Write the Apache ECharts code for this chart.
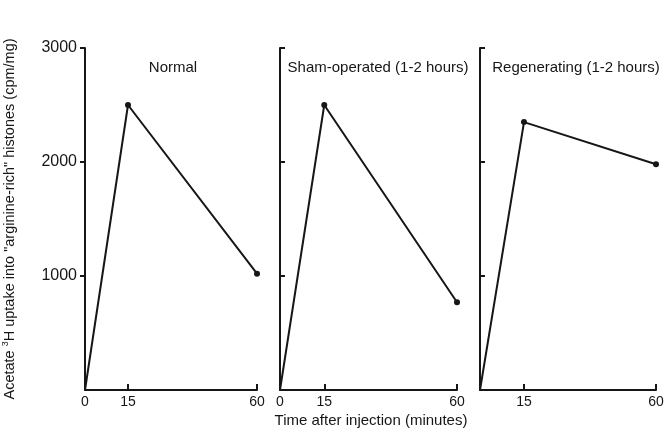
<!DOCTYPE html>
<html><head><meta charset="utf-8">
<script src="https://cdn.jsdelivr.net/npm/echarts@6/dist/echarts.min.js"></script>
<style>html,body{margin:0;padding:0;background:#fff}#c{width:667px;height:436px}</style>
</head><body><div id="c"></div>
<script>
const times = [0, 15, 60];
const normalVals = [0, 2500, 1020];
const shamVals = [0, 2500, 770];
const regenVals = [0, 2350, 1980];
const panelTitles = ['Normal', 'Sham-operated (1-2 hours)', 'Regenerating (1-2 hours)'];
const yTicks = [1000, 2000, 3000];
const xTicksPanels = [[0, 15, 60], [0, 15, 60], [15, 60]];
const xTitle = 'Time after injection (minutes)';

const FONT = '"Liberation Sans", Arial, sans-serif';
const INK = '#161616';
const seriesVals = [normalVals, shamVals, regenVals];
const grids = [
  {left: 81, top: 48, width: 176, height: 342},
  {left: 280, top: 48, width: 177, height: 342},
  {left: 480, top: 48, width: 176, height: 342}
];
const titleX = [173, 378, 576];

const chart = echarts.init(document.getElementById('c'), null, {renderer: 'canvas'});
const option = {
  animation: false,
  backgroundColor: '#fff',
  grid: grids,
  xAxis: grids.map((g, i) => ({
    type: 'value', gridIndex: i, min: 0, max: 60, interval: 15,
    axisLine: {show: true, lineStyle: {color: INK, width: 2}},
    axisTick: {show: true, inside: true, length: 6, lineStyle: {color: INK, width: 2}, customValues: xTicksPanels[i]},
    axisLabel: {show: true, color: INK, fontSize: 14, fontFamily: FONT, margin: 5, customValues: xTicksPanels[i], formatter: v => String(v)},
    splitLine: {show: false}
  })),
  yAxis: grids.map((g, i) => ({
    type: 'value', gridIndex: i, min: 0, max: 3000, interval: 1000,
    name: i === 0 ? '{n|Acetate }{s|3}{n|H uptake into "arginine-rich" histones (cpm/mg)}' : '',
    nameLocation: 'middle', nameGap: 67, nameRotate: 90,
    nameTextStyle: {rich: {
      n: {fontSize: 14.5, fontFamily: FONT, color: INK},
      s: {fontSize: 9, fontFamily: FONT, color: INK, verticalAlign: 'top', padding: [0, 0, 8, 0]}
    }},
    axisLine: {show: true, lineStyle: {color: INK, width: 2}},
    axisTick: {show: true, inside: i !== 0, length: 5, lineStyle: {color: INK, width: 2}, customValues: yTicks},
    axisLabel: {show: i === 0, color: INK, fontSize: 16, fontFamily: FONT, margin: 8, customValues: yTicks, formatter: v => String(v)},
    splitLine: {show: false}
  })),
  series: seriesVals.map((vals, i) => ({
    type: 'line', xAxisIndex: i, yAxisIndex: i,
    data: vals.map((v, k) => ({value: [times[k], v], symbol: k === 0 ? 'none' : 'circle'})),
    symbol: 'circle', symbolSize: 6, showSymbol: true,
    lineStyle: {color: INK, width: 2},
    itemStyle: {color: INK},
    emphasis: {disabled: true}
  })),
  graphic: panelTitles.map((t, i) => ({
    type: 'text', x: titleX[i], y: 68,
    style: {text: t, fill: INK, fontSize: 15, fontFamily: FONT, textAlign: 'center', textVerticalAlign: 'middle'}
  })).concat([{
    type: 'text', x: 371, y: 421,
    style: {text: xTitle, fill: INK, fontSize: 15, fontFamily: FONT, textAlign: 'center', textVerticalAlign: 'middle'}
  }])
};
chart.setOption(option);
</script></body></html>
